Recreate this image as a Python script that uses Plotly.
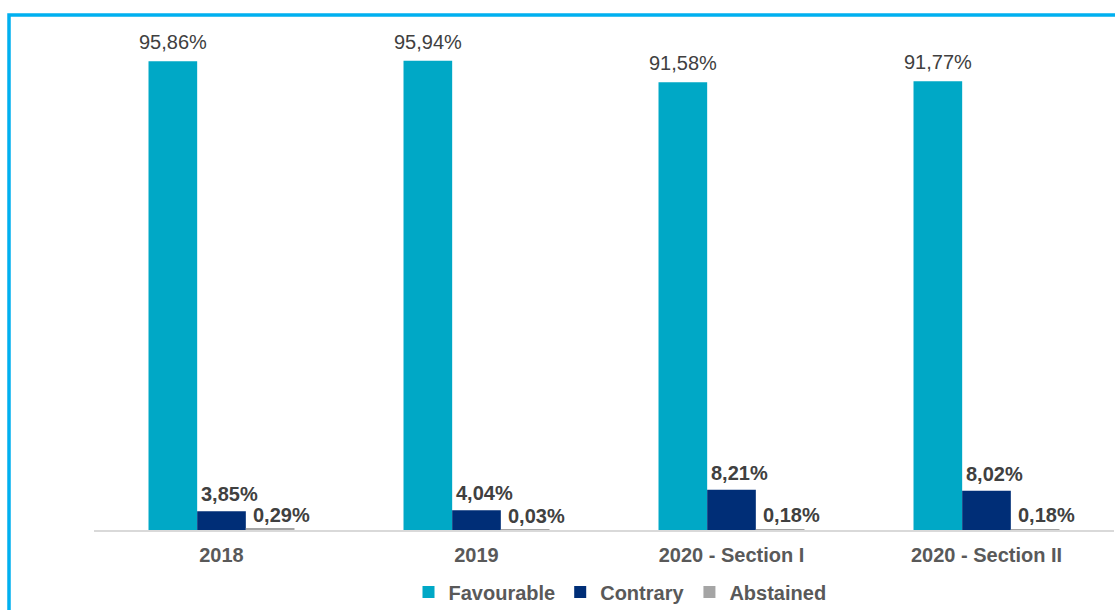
import plotly.graph_objects as go

# Voting results per meeting / section
categories = ["2018", "2019", "2020 - Section I", "2020 - Section II"]
favourable = [95.86, 95.94, 91.58, 91.77]
contrary = [3.85, 4.04, 8.21, 8.02]
abstained = [0.29, 0.03, 0.18, 0.18]

series_names = ["Favourable", "Contrary", "Abstained"]
series_values = [favourable, contrary, abstained]
series_colors = ["#00A8C6", "#002E77", "#A5A5A5"]

FONT = "Arial, 'Liberation Sans', sans-serif"
W, H = 1115, 610
M_L, M_R, M_T, M_B = 94, 1, 41, 80
BARGAP = 0.4275

plot_w = W - M_L - M_R
plot_h = H - M_T - M_B
cat_px = plot_w / len(categories)
bar_px = cat_px * (1 - BARGAP) / len(series_names)

xpos = list(range(len(categories)))


def pct(v):
    return f"{v:.2f}".replace(".", ",") + "%"


fig = go.Figure()
for name, vals, col in zip(series_names, series_values, series_colors):
    fig.add_trace(go.Bar(
        name=name, x=xpos, y=vals,
        marker=dict(color=col, line=dict(width=0)),
        hoverinfo="skip",
    ))

# value labels: (series index, x shift from group centre, y shift, bold)
label_style = [
    (0, -bar_px, 19, False),
    (1, 8, 17, True),
    (2, bar_px + 11, 14, True),
]
for idx, dx, dy, bold in label_style:
    for xi, v in zip(xpos, series_values[idx]):
        txt = pct(v)
        if bold:
            txt = f"<b>{txt}</b>"
        fig.add_annotation(
            x=xi, y=v, xref="x", yref="y",
            text=txt, showarrow=False,
            xanchor="center", yanchor="middle",
            xshift=dx, yshift=dy,
            font=dict(family=FONT, size=20, color="#404040"),
        )

# outer frame of the chart area (only top and left edges visible)
fig.add_shape(
    type="rect", xref="paper", yref="paper",
    x0=(9 - M_L) / plot_w, x1=1.2,
    y0=-0.3, y1=(H - M_B - 15) / plot_h,
    line=dict(color="#00B0F0", width=3.5),
    fillcolor="rgba(0,0,0,0)", layer="below",
)

fig.update_layout(
    width=W, height=H,
    margin=dict(l=M_L, r=M_R, t=M_T, b=M_B, pad=0, autoexpand=False),
    barmode="group", bargap=BARGAP, bargroupgap=0,
    plot_bgcolor="white", paper_bgcolor="white",
    font=dict(family=FONT, size=20, color="#595959"),
    xaxis=dict(
        range=[-0.5, len(categories) - 0.5],
        tickmode="array", tickvals=xpos, ticktext=categories,
        showgrid=False, zeroline=False, automargin=False,
        showline=True, linecolor="#D9D9D9", linewidth=2,
        ticks="", ticklabelstandoff=6,
        tickfont=dict(family=FONT, size=20, color="#595959", weight="bold"),
    ),
    yaxis=dict(range=[0, 100], visible=False, showgrid=False,
               zeroline=False, automargin=False),
    showlegend=True,
    legend=dict(
        orientation="h", x=(620 - M_L) / plot_w, xanchor="center",
        y=(H - M_B - 592) / plot_h, yanchor="middle",
        font=dict(family=FONT, size=20, color="#595959", weight="bold"),
        itemwidth=30, bgcolor="rgba(0,0,0,0)",
    ),
)

fig.write_html("out.html")
